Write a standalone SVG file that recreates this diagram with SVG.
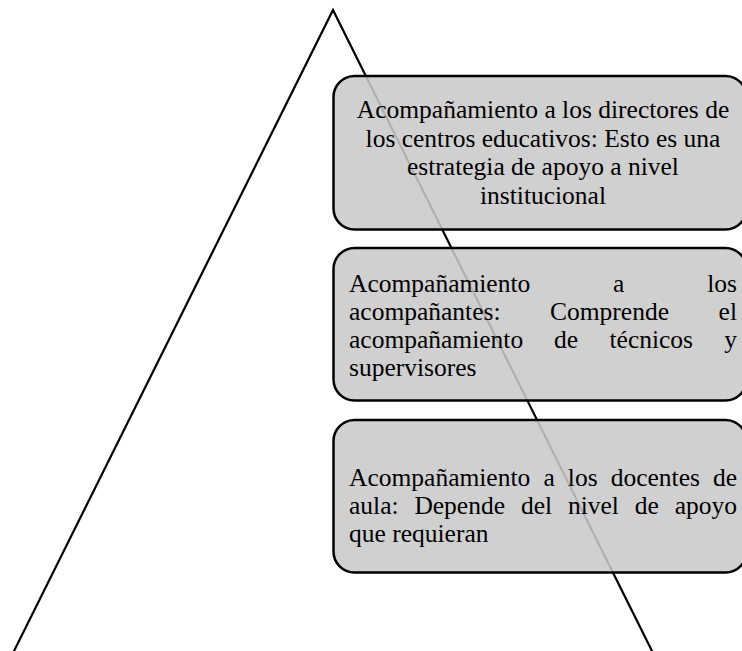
<svg xmlns="http://www.w3.org/2000/svg" width="742" height="651" viewBox="0 0 742 651">
<style>
.tri{fill:none;stroke:#000;stroke-width:2.2;stroke-linejoin:miter}
.box{fill:#c9c9c9;fill-opacity:0.875;stroke:#000;stroke-width:2.5}
text{font-family:"Liberation Serif","Times New Roman",serif;font-size:25.5px;fill:#000}
.c{text-anchor:middle}
.e{text-anchor:end}
</style>
<rect x="0" y="0" width="742" height="651" fill="#fff"/>
<g id="pyramid">
<polyline class="tri" points="12.5,654 333,10 653.5,654"/>
</g>
<g id="connectors"></g>
<g id="node-directores">
<rect class="box" x="333.5" y="76" width="413" height="153.5" rx="21" ry="21"/>
<text class="c" x="543" y="118">Acompañamiento a los directores de</text>
<text class="c" x="543" y="146.5">los centros educativos: Esto es una</text>
<text class="c" x="543" y="175">estrategia de apoyo a nivel</text>
<text class="c" x="543" y="203.5">institucional</text>
</g>
<g id="node-acompanantes">
<rect class="box" x="333.5" y="248" width="413" height="152.5" rx="21" ry="21"/>
<text x="349" y="292">Acompañamiento</text>
<text x="613" y="292">a</text>
<text class="e" x="737" y="292">los</text>
<text x="349" y="320">acompañantes:</text>
<text x="550" y="320">Comprende</text>
<text class="e" x="737" y="320">el</text>
<text x="349" y="348">acompañamiento</text>
<text x="554" y="348">de</text>
<text x="609.5" y="348">técnicos</text>
<text class="e" x="737" y="348">y</text>
<text x="349" y="376">supervisores</text>
</g>
<g id="node-docentes">
<rect class="box" x="333.5" y="420" width="413" height="152.5" rx="21" ry="21"/>
<text x="349" y="486">Acompañamiento</text>
<text x="543.4" y="486">a</text>
<text x="567.8" y="486">los</text>
<text x="610.7" y="486">docentes</text>
<text class="e" x="737" y="486">de</text>
<text x="349" y="514">aula:</text>
<text x="414.4" y="514">Depende</text>
<text x="520.9" y="514">del</text>
<text x="567.9" y="514">nivel</text>
<text x="634.8" y="514">de</text>
<text class="e" x="737" y="514">apoyo</text>
<text x="349" y="542">que requieran</text>
</g>
</svg>
